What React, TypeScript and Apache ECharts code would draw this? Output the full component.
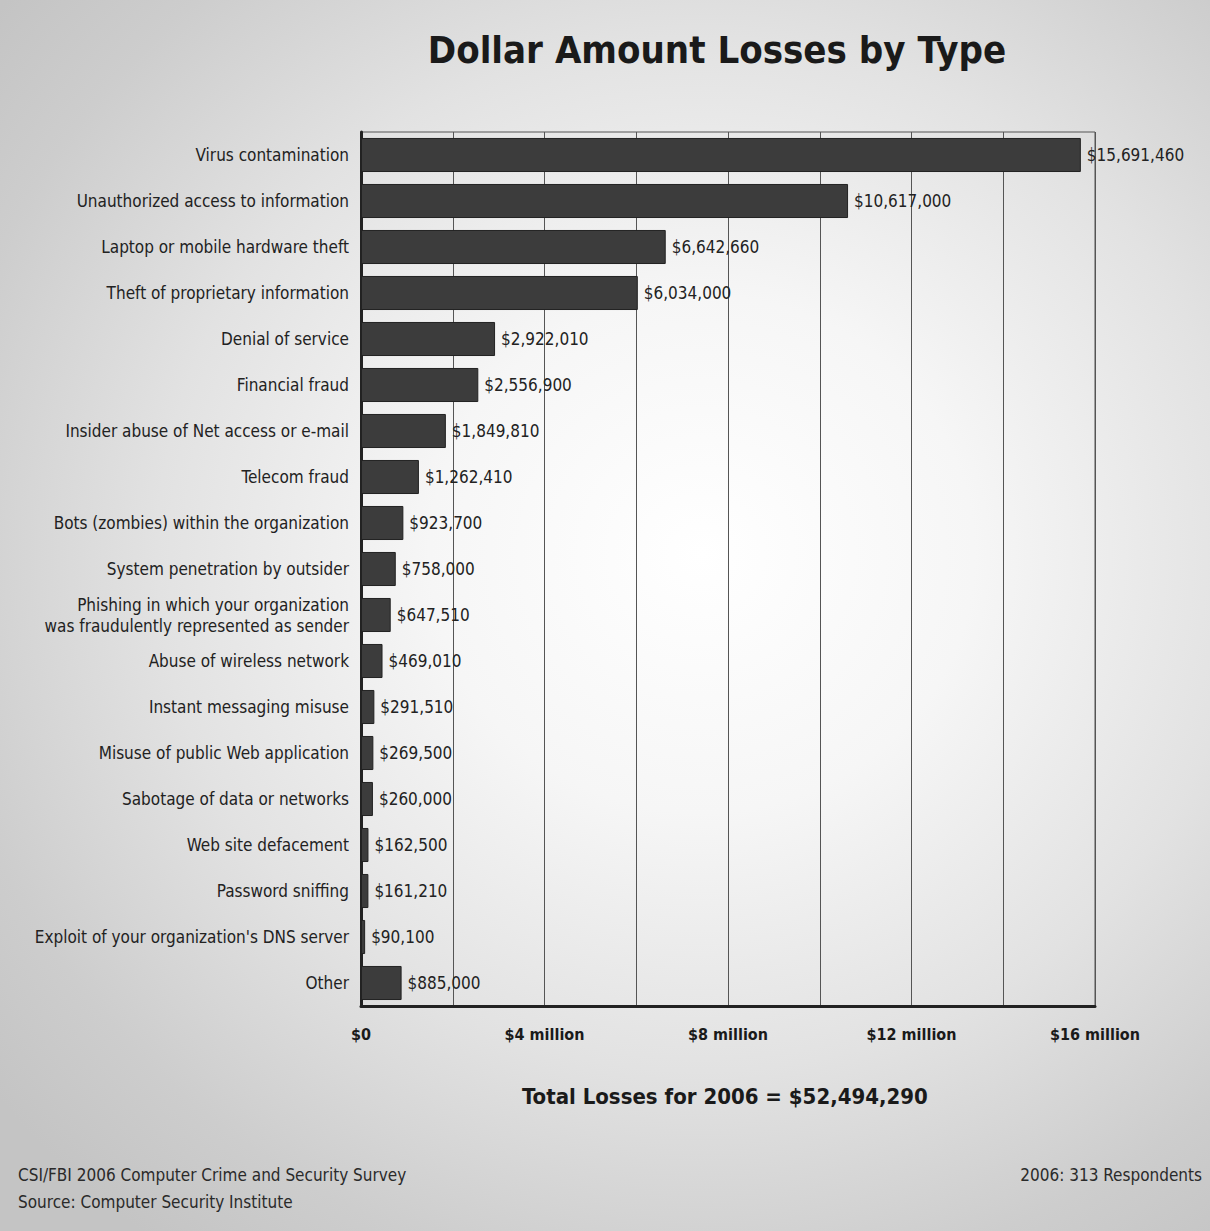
import React, { useEffect, useRef } from "react";
import * as echarts from "echarts";

const categories = [
  "Virus contamination",
  "Unauthorized access to information",
  "Laptop or mobile hardware theft",
  "Theft of proprietary information",
  "Denial of service",
  "Financial fraud",
  "Insider abuse of Net access or e-mail",
  "Telecom fraud",
  "Bots (zombies) within the organization",
  "System penetration by outsider",
  "Phishing in which your organization\nwas fraudulently represented as sender",
  "Abuse of wireless network",
  "Instant messaging misuse",
  "Misuse of public Web application",
  "Sabotage of data or networks",
  "Web site defacement",
  "Password sniffing",
  "Exploit of your organization's DNS server",
  "Other",
];

const losses = [
  15691460, 10617000, 6642660, 6034000, 2922010, 2556900, 1849810, 1262410,
  923700, 758000, 647510, 469010, 291510, 269500, 260000, 162500, 161210, 90100,
  885000,
];

const title = "Dollar Amount Losses by Type";
const totalText = "Total Losses for 2006 = $52,494,290";
const sourceLines = "CSI/FBI 2006 Computer Crime and Security Survey\nSource: Computer Security Institute";
const respondents = "2006: 313 Respondents";

const FONT = "'Liberation Sans Narrow', 'DejaVu Sans Condensed', 'DejaVu Sans', sans-serif";

const fmtMoney = (v: number) => "$" + v.toLocaleString("en-US");

export default function App() {
  const ref = useRef<HTMLDivElement>(null);
  useEffect(() => {
    document.body.style.margin = "0";
    const chart = echarts.init(ref.current!, null, { renderer: "svg" });
    chart.setOption({
      animation: false,
      backgroundColor: "transparent",
      title: {
        text: title,
        left: 712,
        top: 26,
        textAlign: "center",
        textStyle: { fontFamily: FONT, fontSize: 38, fontWeight: 900, color: "#1a1a1a" },
      },
      grid: {
        left: 361,
        right: 115,
        top: 132,
        height: 874,
        outerBoundsMode: "none",
        containLabel: false,
        show: true,
        borderColor: "#555",
        borderWidth: 1,
        backgroundColor: "transparent",
      },
      xAxis: {
        type: "value",
        min: 0,
        max: 16000000,
        interval: 2000000,
        axisLine: { show: true, lineStyle: { color: "#222", width: 3 } },
        axisTick: { show: false },
        splitLine: { show: true, lineStyle: { color: "#555", width: 1 } },
        axisLabel: {
          margin: 20,
          fontFamily: FONT,
          fontSize: 16,
          fontWeight: 600,
          color: "#1a1a1a",
          formatter: (v: number) =>
            v % 4000000 === 0 ? (v === 0 ? "$0" : `$${v / 1000000} million`) : "",
        },
      },
      yAxis: {
        type: "category",
        data: categories,
        inverse: true,
        axisLine: { show: true, lineStyle: { color: "#222", width: 3 } },
        axisTick: { show: false },
        axisLabel: {
          margin: 12,
          fontFamily: FONT,
          fontSize: 17,
          color: "#222",
          lineHeight: 21,
        },
      },
      series: [
        {
          type: "bar",
          data: losses,
          barCategoryGap: "26%",
          itemStyle: { color: "#3c3c3c", borderColor: "#222", borderWidth: 1 },
          label: {
            show: true,
            position: "right",
            distance: 6,
            fontFamily: FONT,
            fontSize: 17,
            color: "#222",
            formatter: (p: any) => fmtMoney(p.value),
          },
        },
      ],
      graphic: [
        {
          type: "text",
          left: 522,
          top: 1085,
          style: { text: totalText, fontFamily: FONT, fontSize: 22, fontWeight: 900, fill: "#1a1a1a" },
        },
        {
          type: "text",
          left: 18,
          top: 1161,
          style: { text: sourceLines, fontFamily: FONT, fontSize: 17, lineHeight: 27, fill: "#2a2a2a" },
        },
        {
          type: "text",
          right: 8,
          top: 1161,
          style: { text: respondents, fontFamily: FONT, fontSize: 17, lineHeight: 27, fill: "#2a2a2a" },
        },
      ],
    });
    return () => chart.dispose();
  }, []);
  return (
    <div
      ref={ref}
      style={{
        position: "absolute",
        left: 0,
        top: 0,
        width: 1210,
        height: 1231,
        background:
          "radial-gradient(ellipse 75% 70% at 58% 45%, #ffffff 0%, #f6f6f6 30%, #e2e2e2 60%, #cdcdcd 85%, #c4c4c4 100%)",
      }}
    />
  );
}
